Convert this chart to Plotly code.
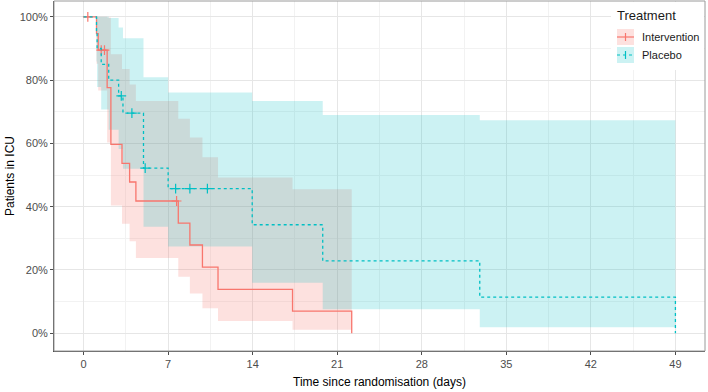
import plotly.graph_objects as go

# ---------------- data ----------------
groups = ["Intervention", "Placebo"]

int_times = [1.07, 1.21, 1.95, 2.26, 3.18, 3.81, 4.33, 7.84, 8.8, 9.84, 11.13, 17.3, 22.2]
int_surv = [0.947, 0.895, 0.776, 0.597, 0.537, 0.478, 0.418, 0.348, 0.279, 0.209, 0.139, 0.070, 0.0]
int_lower = [0.852, 0.767, 0.603, 0.404, 0.346, 0.291, 0.238, 0.179, 0.126, 0.079, 0.039, 0.011]
int_upper = [1.0, 1.0, 0.998, 0.882, 0.835, 0.786, 0.734, 0.678, 0.619, 0.556, 0.492, 0.455]
int_cens_t = [0.35, 1.46, 1.73, 7.7]
int_cens_s = [1.0, 0.895, 0.895, 0.418]

pla_times = [1.07, 1.12, 1.46, 2.08, 2.9, 3.26, 4.96, 7.0, 13.96, 19.8, 32.8, 49.0]
pla_surv = [0.95, 0.90, 0.85, 0.80, 0.75, 0.696, 0.522, 0.457, 0.343, 0.229, 0.114, 0.0]
pla_lower = [0.859, 0.778, 0.707, 0.643, 0.582, 0.520, 0.337, 0.274, 0.160, 0.076, 0.019]
pla_upper = [1.0, 1.0, 1.0, 0.996, 0.966, 0.932, 0.809, 0.761, 0.734, 0.690, 0.673]
pla_cens_t = [3.12, 4.0, 5.1, 7.62, 8.8, 10.25]
pla_cens_s = [0.75, 0.696, 0.522, 0.457, 0.457, 0.457]

x_ticks = [0, 7, 14, 21, 28, 35, 42, 49]
y_ticks = [0, 0.2, 0.4, 0.6, 0.8, 1.0]

colors = {"Intervention": "#F8766D", "Placebo": "#00BFC4"}
fills = {"Intervention": "rgba(248,118,109,0.22)", "Placebo": "rgba(0,191,196,0.2)"}
dashes = {"Intervention": "solid", "Placebo": "dot"}

series = {
    "Intervention": (int_times, int_surv, int_lower, int_upper, int_cens_t, int_cens_s),
    "Placebo": (pla_times, pla_surv, pla_lower, pla_upper, pla_cens_t, pla_cens_s),
}

fig = go.Figure()

# confidence bands
for g in groups:
    t, s, lo, up, ct, cs = series[g]
    bt = [0] + t
    blo = [1.0] + lo + [lo[-1]]
    bup = [1.0] + up + [up[-1]]
    fig.add_trace(go.Scatter(x=bt, y=blo, mode="lines", line=dict(width=0, shape="hv"),
                             showlegend=False, hoverinfo="skip"))
    fig.add_trace(go.Scatter(x=bt, y=bup, mode="lines", line=dict(width=0, shape="hv"),
                             fill="tonexty", fillcolor=fills[g], showlegend=False, hoverinfo="skip"))

# survival curves and censor marks
for g in groups:
    t, s, lo, up, ct, cs = series[g]
    fig.add_trace(go.Scatter(x=[0] + t, y=[1.0] + s, mode="lines",
                             line=dict(color=colors[g], width=1.3, shape="hv", dash=dashes[g]),
                             name=g, showlegend=False))
    fig.add_trace(go.Scatter(x=ct, y=cs, mode="markers",
                             marker=dict(symbol="cross-thin", size=7,
                                         line=dict(color=colors[g], width=1.2)),
                             showlegend=False, hoverinfo="skip"))

# ---------------- layout ----------------
L, R, T, B = 54, 3, 1, 41
W, H = 708, 392
pw, ph = W - L - R, H - T - B


def px(xp):
    return (xp - L) / pw


def py(yp):
    return (H - B - yp) / ph


shapes = [
    dict(type="rect", xref="paper", yref="paper", x0=0, y0=0, x1=1, y1=1,
         line=dict(color="#9a9a9a", width=1), layer="above"),
    # legend background
    dict(type="rect", xref="paper", yref="paper", x0=px(611), y0=py(70), x1=px(704), y1=py(2),
         fillcolor="white", line=dict(width=0), layer="above"),
]
annotations = [
    dict(xref="paper", yref="paper", x=px(615), y=py(16), text="Treatment", showarrow=False,
         xanchor="left", yanchor="middle", font=dict(size=13, color="#1a1a1a")),
]
for i, g in enumerate(groups):
    y0, y1 = 29 + i * 18, 45 + i * 18
    yc = (y0 + y1) / 2
    shapes.append(dict(type="rect", xref="paper", yref="paper", x0=px(617), x1=px(634),
                       y0=py(y1), y1=py(y0), fillcolor=fills[g], line=dict(width=0), layer="above"))
    shapes.append(dict(type="line", xref="paper", yref="paper", x0=px(617), x1=px(634),
                       y0=py(yc), y1=py(yc), layer="above",
                       line=dict(color=colors[g], width=1.2, dash="dot" if g == "Placebo" else "solid")))
    shapes.append(dict(type="line", xref="paper", yref="paper", x0=px(625.5), x1=px(625.5),
                       y0=py(yc - 4), y1=py(yc + 4), layer="above",
                       line=dict(color=colors[g], width=1.2)))
    annotations.append(dict(xref="paper", yref="paper", x=px(640), y=py(yc), text=g,
                            showarrow=False, xanchor="left", yanchor="middle",
                            font=dict(size=11, color="#1a1a1a")))

fig.update_layout(
    width=W, height=H,
    margin=dict(l=L, r=R, t=T, b=B, pad=0),
    paper_bgcolor="white", plot_bgcolor="white",
    font=dict(family="Liberation Sans, Arial, sans-serif", size=11, color="#4d4d4d"),
    shapes=shapes, annotations=annotations,
    showlegend=False,
    xaxis=dict(range=[-2.45, 51.45], tickvals=x_ticks, ticktext=[str(v) for v in x_ticks],
               showgrid=True, gridcolor="#e6e6e6", gridwidth=1,
               minor=dict(tickvals=[3.5, 10.5, 17.5, 24.5, 31.5, 38.5, 45.5],
                          showgrid=True, gridcolor="#f2f2f2", gridwidth=1),
               zeroline=False, showline=True, linecolor="#4d4d4d", linewidth=1,
               ticks="outside", ticklen=3, tickcolor="#4d4d4d",
               tickfont=dict(size=11, color="#4d4d4d"),
               title=dict(text="Time since randomisation (days)", standoff=8,
                          font=dict(size=12, color="#000000"))),
    yaxis=dict(range=[-0.056, 1.05], tickvals=y_ticks, tickformat=".0%",
               showgrid=True, gridcolor="#e6e6e6", gridwidth=1,
               minor=dict(tickvals=[0.1, 0.3, 0.5, 0.7, 0.9],
                          showgrid=True, gridcolor="#f2f2f2", gridwidth=1),
               zeroline=False, showline=True, linecolor="#4d4d4d", linewidth=1,
               ticks="outside", ticklen=3, tickcolor="#4d4d4d",
               tickfont=dict(size=11, color="#4d4d4d"),
               title=dict(text="Patients in ICU", standoff=2,
                          font=dict(size=12, color="#000000"))),
)

fig.write_html("out.html", config={"displayModeBar": False},
               post_script="document.body.style.margin='0px';")
